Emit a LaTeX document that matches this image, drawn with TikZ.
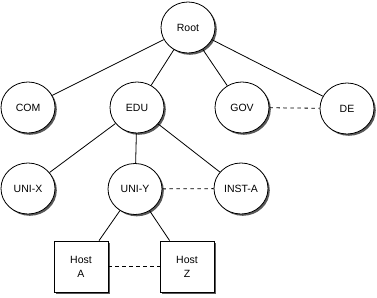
\documentclass[tikz,border=0pt]{standalone}
\usepackage{fontspec}
\setmainfont{Liberation Sans}
\usetikzlibrary{shapes.geometric}
\begin{document}
\begin{tikzpicture}[x=1pt,y=-1pt,
  dom/.style={ellipse,draw=black,fill=white,line width=0.8pt,minimum width=54pt,minimum height=51pt,inner sep=0pt,font=\fontsize{10.5}{11}\selectfont},
  domshadow/.style={ellipse,fill=black!65,minimum width=54pt,minimum height=51pt,inner sep=0pt},
  hostbox/.style={rectangle,draw=black,fill=white,line width=0.8pt,minimum width=54pt,minimum height=51pt,inner sep=0pt,align=center,font=\fontsize{10.5}{14}\selectfont},
  hostshadow/.style={rectangle,fill=black!65,minimum width=54pt,minimum height=51pt,inner sep=0pt},
  link/.style={line width=0.8pt},
  peer/.style={line width=0.8pt,dash pattern=on 3.5pt off 3.5pt}]
\useasboundingbox (0,0) rectangle (377,297);
\fill[white] (0,0) rectangle (377,297);
% shadows
\foreach \x/\y in {188/27.5,28/107.5,137/107.5,242/107.5,347/108.5,28/188.5,135/189,241/188.5}
  \node[domshadow] at (\x+1.8,\y+1.8) {};
\node[hostshadow] at (83,268.5) {};
\node[hostshadow] at (189,268.5) {};
\node[dom] (root) at (188,27.5) {Root};
\node[dom] (com) at (28,107.5) {COM};
\node[dom] (edu) at (137,107.5) {EDU};
\node[dom] (gov) at (242,107.5) {GOV};
\node[dom] (de) at (347,108.5) {DE};
\node[dom] (unix) at (28,188.5) {UNI-X};
\node[dom] (uniy) at (135,189) {UNI-Y};
\node[dom] (insta) at (241,188.5) {INST-A};
\node[hostbox] (hosta) at (81,266.5) {Host\\A};
\node[hostbox] (hostz) at (187,266.5) {Host\\Z};
\draw[link] (root) -- (com);
\draw[link] (root) -- (edu);
\draw[link] (root) -- (gov);
\draw[link] (root) -- (de);
\draw[link] (edu) -- (unix);
\draw[link] (edu) -- (uniy);
\draw[link] (edu) -- (insta);
\draw[link] (uniy) -- (hosta);
\draw[link] (uniy) -- (hostz);
\draw[peer] (gov) -- (de);
\draw[peer] (uniy) -- (insta);
\draw[peer] (hosta) -- (hostz);
\end{tikzpicture}
\end{document}
